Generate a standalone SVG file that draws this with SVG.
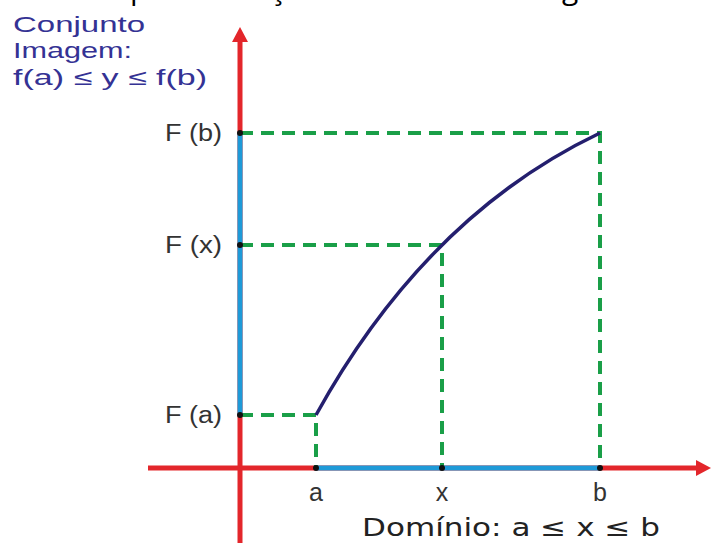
<svg xmlns="http://www.w3.org/2000/svg" width="712" height="543" viewBox="0 0 712 543">
<style>
.ax{stroke:#e3262b;stroke-width:5;fill:none}
.rg{stroke:#1e9ad8;stroke-width:5;fill:none}
.gd{stroke:#1a9f48;stroke-width:4;stroke-dasharray:13 8;fill:none}
.lbl{font-family:"Liberation Sans",Arial,sans-serif;font-size:23px;fill:#333}
.xl{font-family:"Liberation Sans",Arial,sans-serif;font-size:25px;fill:#333}
.img{font-family:"Liberation Sans",Arial,sans-serif;font-size:22px;fill:#343294}
.dom{font-family:"DejaVu Sans","Open Sans",sans-serif;font-size:25px;fill:#222}
.top{font-family:"Open Sans","DejaVu Sans",sans-serif;font-size:30px;fill:#000}
</style>
<rect width="712" height="543" fill="#fff"/>
<g id="caption">
<text class="top" x="130" y="-1">p</text>
<text class="top" x="270" y="-1">ç</text>
<text class="top" x="562" y="-1">g</text>
</g>
<g id="image-set">
<text class="img" x="13" y="32" textLength="132" lengthAdjust="spacingAndGlyphs">Conjunto</text>
<text class="img" x="13" y="58" textLength="119" lengthAdjust="spacingAndGlyphs">Imagem:</text>
<text class="img" x="13" y="85" textLength="194" lengthAdjust="spacingAndGlyphs">f(a) ≤ y ≤ f(b)</text>
</g>
<g id="connectors">
<line class="ax" x1="240" y1="40" x2="240" y2="543"/>
<polygon points="240,27 232,42 248,42" fill="#e3262b"/>
<line class="ax" x1="148" y1="468" x2="698" y2="468"/>
<polygon points="711,468 696,460 696,476" fill="#e3262b"/>
<line class="rg" x1="240" y1="133" x2="240" y2="415"/>
<line class="rg" x1="316" y1="468" x2="600" y2="468"/>
<path class="gd" d="M240 133H600V468"/>
<path class="gd" d="M240 245H442V468"/>
<path class="gd" d="M240 415H316V468"/>
<path d="M316 415Q426 216 600 133" stroke="#241f6e" stroke-width="3.5" fill="none"/>
</g>
<g id="points" fill="#111">
<circle cx="240" cy="133" r="3"/>
<circle cx="240" cy="245" r="3"/>
<circle cx="240" cy="415" r="3"/>
<circle cx="316" cy="468" r="3"/>
<circle cx="442" cy="468" r="3"/>
<circle cx="600" cy="468" r="3"/>
</g>
<g id="y-labels">
<text class="lbl" x="165" y="141" textLength="57" lengthAdjust="spacingAndGlyphs">F (b)</text>
<text class="lbl" x="165" y="253" textLength="57" lengthAdjust="spacingAndGlyphs">F (x)</text>
<text class="lbl" x="165" y="423" textLength="57" lengthAdjust="spacingAndGlyphs">F (a)</text>
</g>
<g id="x-labels">
<text class="xl" x="316" y="501" text-anchor="middle">a</text>
<text class="xl" x="442" y="501" text-anchor="middle">x</text>
<text class="xl" x="600" y="501" text-anchor="middle">b</text>
</g>
<g id="domain">
<text class="dom" x="362" y="536" textLength="298" lengthAdjust="spacingAndGlyphs">Domínio:  a ≤ x ≤ b</text>
</g>
</svg>
